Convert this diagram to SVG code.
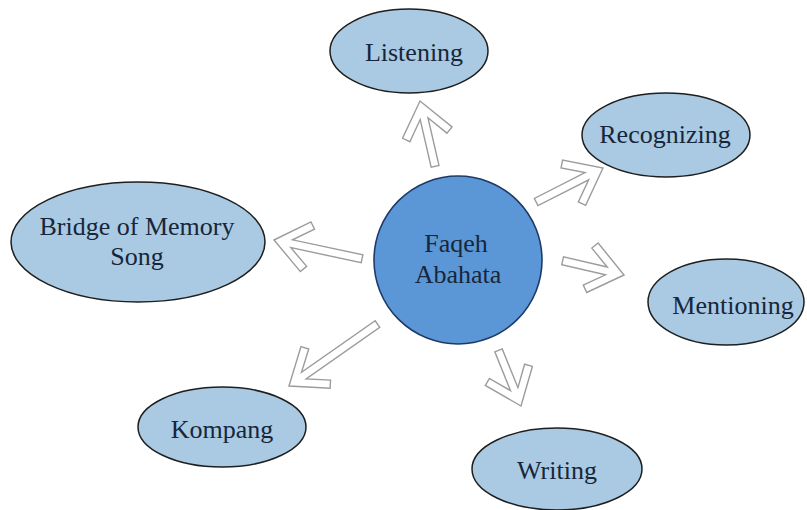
<svg xmlns="http://www.w3.org/2000/svg" xmlns:xlink="http://www.w3.org/1999/xlink" width="807" height="510" viewBox="0 0 807 510">
  <style>
    .bg { fill: #ffffff; }
    .leaf { fill: #a9cae2; stroke: #1e1e1e; stroke-width: 1.5; }
    .hub { fill: #5b97d6; stroke: #1f3a66; stroke-width: 1.6; }
    .label { font-size: 26px; fill: #17263a; text-anchor: middle; }
    .arrow { fill: #ffffff; stroke: #9c9c9c; stroke-width: 1.4; stroke-linejoin: miter; }
  </style>
  <defs>
    <!-- hollow block arrows, outer tip at the origin, pointing along +x -->
    <polygon id="a-listen" points="0,0 -32.4,25.4 -37.4,19 -18.1,4 -67,4 -67,-4 -18.1,-4 -37.4,-19 -32.4,-25.4"/>
    <polygon id="a-recog" points="0,0 -32.4,25.4 -37.4,19 -18.1,4 -75,4 -75,-4 -18.1,-4 -37.4,-19 -32.4,-25.4"/>
    <polygon id="a-bridge" points="0,0 -32.4,25.4 -37.4,19 -18.1,4 -90,4 -90,-4 -18.1,-4 -37.4,-19 -32.4,-25.4"/>
    <polygon id="a-mention" points="0,0 -32.4,25.4 -37.4,19 -18.1,4 -63,4 -63,-4 -18.1,-4 -37.4,-19 -32.4,-25.4"/>
    <polygon id="a-kompang" points="0,0 -32.4,25.4 -37.4,19 -18.1,4 -108,4 -108,-4 -18.1,-4 -37.4,-19 -32.4,-25.4"/>
    <polygon id="a-writing" points="0,0 -32.4,25.4 -37.4,19 -18.1,4 -60,4 -60,-4 -18.1,-4 -37.4,-19 -32.4,-25.4"/>
  </defs>

  <rect class="bg" x="0" y="0" width="807" height="510"/>

  <g id="connectors">
    <use xlink:href="#a-listen" class="arrow" transform="translate(420 101) rotate(-103)"/>
    <use xlink:href="#a-recog" class="arrow" transform="translate(603 168) rotate(-27)"/>
    <use xlink:href="#a-bridge" class="arrow" transform="translate(274 240) rotate(192)"/>
    <use xlink:href="#a-mention" class="arrow" transform="translate(624 275) rotate(13)"/>
    <use xlink:href="#a-kompang" class="arrow" transform="translate(289 386) rotate(145)"/>
    <use xlink:href="#a-writing" class="arrow" transform="translate(521 406) rotate(68)"/>
  </g>

  <g font-family="Liberation Serif, Times New Roman, serif">
    <g id="faqeh-abahata">
      <circle class="hub" cx="458" cy="260" r="84"/>
      <text class="label" x="456" y="252">Faqeh</text>
      <text class="label" x="458" y="283">Abahata</text>
    </g>

    <g id="listening">
      <ellipse class="leaf" cx="409" cy="51" rx="79" ry="42"/>
      <text class="label" x="414" y="61">Listening</text>
    </g>

    <g id="recognizing">
      <ellipse class="leaf" cx="666" cy="135" rx="84" ry="42"/>
      <text class="label" x="665" y="143">Recognizing</text>
    </g>

    <g id="bridge-of-memory-song">
      <ellipse class="leaf" cx="138" cy="242" rx="127" ry="60"/>
      <text class="label" x="137" y="235">Bridge of Memory</text>
      <text class="label" x="137" y="265">Song</text>
    </g>

    <g id="mentioning">
      <ellipse class="leaf" cx="726" cy="302" rx="78" ry="43"/>
      <text class="label" x="733" y="314">Mentioning</text>
    </g>

    <g id="kompang">
      <ellipse class="leaf" cx="222" cy="427" rx="84" ry="40"/>
      <text class="label" x="222" y="438">Kompang</text>
    </g>

    <g id="writing">
      <ellipse class="leaf" cx="557" cy="469" rx="85" ry="41"/>
      <text class="label" x="557" y="479">Writing</text>
    </g>
  </g>
</svg>
